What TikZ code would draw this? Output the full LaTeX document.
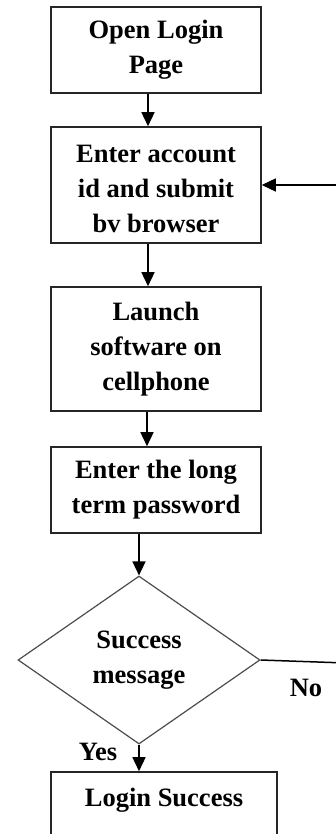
\documentclass[tikz,border=0pt]{standalone}
\usepackage{fontspec}
\setmainfont{Liberation Serif}
\usetikzlibrary{shapes.geometric,arrows.meta}
\begin{document}
\begin{tikzpicture}[x=1pt,y=-1pt,
  txt/.style={font=\bfseries\fontsize{26.5}{35}\selectfont, align=center},
  box/.style={txt, draw=black!85, line width=1.6pt, inner sep=0pt, minimum width=210pt},
  dec/.style={txt, draw=black!70, line width=1.2pt, shape=diamond, inner sep=0pt, minimum width=242pt, minimum height=168pt},
  arr/.style={line width=1.5pt, -{Triangle[length=14pt,width=13pt]}},
  lin/.style={line width=1.5pt}
]
\useasboundingbox (0,0) rectangle (336,834);
\clip (0,0) rectangle (336,834);
\node[box, minimum height=86pt] (b1) at (156,50) {Open Login\\Page};
\node[box, minimum height=116pt, label={[txt, yshift=-4pt]center:Enter account\\id and submit\\bv browser}] (b2) at (156,185) {};
\node[box, minimum height=124pt] (b3) at (156,349) {Launch\\software on\\cellphone};
\node[box, minimum height=86pt] (b4) at (156,490) {Enter the long\\term password};
\node[dec] (d) at (139,660) {Success\\message};
\node[box, minimum width=226pt, minimum height=86pt] (b5) at (164,815) {Login Success\\\mbox{}};
\node[txt] (no) at (306,688) {No};
\node[txt] (yes) at (98,752) {Yes};
\coordinate (r1) at (346,663);
\coordinate (r2) at (346,185);
\draw[arr] ([xshift=-8pt]b1.south) -- ([xshift=-8pt]b2.north);
\draw[arr] ([xshift=-8pt]b2.south) -- ([xshift=-8pt]b3.north);
\draw[arr] ([xshift=-9pt]b3.south) -- ([xshift=-9pt]b4.north);
\draw[arr] (b4.south -| d.north) -- (d.north);
\draw[arr] (d.south) -- (d.south |- b5.north);
\draw[lin] (d.east) -- (r1) -- (r2);
\draw[arr] (r2) -- (b2.east);
\end{tikzpicture}
\end{document}
